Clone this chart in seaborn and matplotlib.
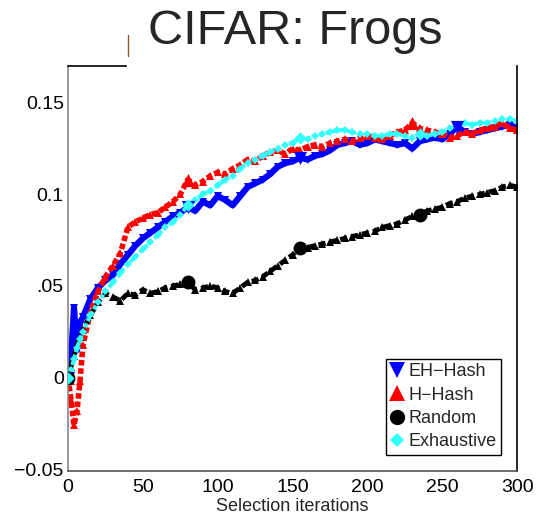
import matplotlib
matplotlib.use("Agg")
import matplotlib.pyplot as plt
import matplotlib.lines as mlines
import seaborn as sns
import pandas as pd

iters = [0, 2, 4, 6, 8] + list(range(10, 301, 5))

eh_hash = [0.000, 0.010, 0.038, 0.015, 0.030,
           0.033, 0.043, 0.049, 0.053, 0.056, 0.062, 0.067, 0.072, 0.076, 0.079,
           0.082, 0.085, 0.088, 0.090, 0.093, 0.091, 0.096, 0.094, 0.099, 0.097,
           0.094, 0.099, 0.104, 0.106, 0.108, 0.111, 0.115, 0.117, 0.118, 0.120,
           0.119, 0.121, 0.122, 0.124, 0.127, 0.128, 0.129, 0.127, 0.128, 0.130,
           0.129, 0.128, 0.127, 0.128, 0.125, 0.129, 0.130, 0.131, 0.130, 0.133,
           0.137, 0.134, 0.133, 0.134, 0.135, 0.136, 0.137, 0.138, 0.136]

h_hash = [0.000, -0.012, -0.026, -0.018, -0.002,
          0.018, 0.036, 0.047, 0.055, 0.061, 0.068, 0.082, 0.085, 0.087, 0.089,
          0.090, 0.093, 0.096, 0.100, 0.108, 0.105, 0.107, 0.110, 0.112, 0.111,
          0.114, 0.116, 0.119, 0.118, 0.121, 0.123, 0.124, 0.122, 0.125, 0.124,
          0.126, 0.127, 0.126, 0.128, 0.129, 0.130, 0.129, 0.131, 0.132, 0.131,
          0.130, 0.132, 0.134, 0.135, 0.139, 0.136, 0.135, 0.134, 0.133, 0.131,
          0.132, 0.134, 0.133, 0.135, 0.136, 0.137, 0.139, 0.136, 0.135]

random_sel = [0.000, 0.006, 0.012, 0.018, 0.022,
              0.026, 0.034, 0.041, 0.046, 0.044, 0.042, 0.046, 0.045, 0.048, 0.046,
              0.047, 0.049, 0.050, 0.051, 0.052, 0.048, 0.049, 0.050, 0.049, 0.047,
              0.046, 0.049, 0.052, 0.053, 0.055, 0.058, 0.061, 0.064, 0.067, 0.071,
              0.071, 0.072, 0.073, 0.074, 0.075, 0.076, 0.077, 0.078, 0.079, 0.080,
              0.082, 0.083, 0.084, 0.086, 0.088, 0.089, 0.091, 0.092, 0.093, 0.095,
              0.096, 0.098, 0.099, 0.100, 0.101, 0.102, 0.104, 0.105, 0.104]

exhaustive = [0.000, 0.004, 0.010, 0.016, 0.021,
              0.025, 0.034, 0.041, 0.047, 0.052, 0.057, 0.062, 0.066, 0.070, 0.074,
              0.078, 0.082, 0.085, 0.089, 0.094, 0.097, 0.100, 0.102, 0.105, 0.108,
              0.110, 0.114, 0.117, 0.119, 0.121, 0.123, 0.125, 0.127, 0.128, 0.131,
              0.130, 0.132, 0.133, 0.134, 0.135, 0.135, 0.134, 0.133, 0.133, 0.132,
              0.132, 0.133, 0.133, 0.132, 0.131, 0.133, 0.132, 0.133, 0.134, 0.136,
              0.137, 0.139, 0.138, 0.139, 0.139, 0.140, 0.141, 0.141, 0.140]

series_names = ["EH\u2212Hash", "H\u2212Hash", "Random", "Exhaustive"]
x_ticks = [0, 50, 100, 150, 200, 250, 300]
y_ticks = [-0.05, 0, 0.05, 0.1, 0.15]
y_tick_labels = ["\u22120.05", "0", ".05", "0.1", "0.15"]
title_text = "CIFAR: Frogs"
x_label = "Selection iterations"

sns.set_style("white")
plt.rcParams["font.family"] = ["Liberation Sans", "DejaVu Sans"]

fig = plt.figure(figsize=(5.42, 5.20), dpi=100)
ax = fig.add_axes([0.1255, 0.094, 0.8285, 0.779])

styles = [
    dict(data=eh_hash, color="#0000ff", ls="-", lw=4.5, marker="v", sms=6),
    dict(data=h_hash, color="#ff0000", ls=(0, (1.0, 0.5)), lw=4.0, marker="^", sms=6),
    dict(data=random_sel, color="#000000", ls=(0, (1.5, 0.8)), lw=3.5, marker="^", sms=6),
    dict(data=exhaustive, color="#33ffff", ls=(0, (1.0, 0.6)), lw=3.0, marker="D", sms=4),
]
big_markers = ["v", "^", "o", "D"]
big_marks = [[0, 80, 155, 260], [0, 80, 230], [0, 80, 155, 235], [0, 80, 155, 235]]
big_sizes = [90, 90, 100, 40]

handles = []
for name, st, bm, bmk, bs in zip(series_names, styles, big_markers, big_marks, big_sizes):
    df = pd.DataFrame({"iter": iters, "val": st["data"]})
    sns.lineplot(data=df, x="iter", y="val", ax=ax, color=st["color"],
                 linestyle=st["ls"], linewidth=st["lw"], marker=st["marker"],
                 markersize=st["sms"], markeredgewidth=0,
                 estimator=None, legend=False)
    sub = df[df["iter"].isin(bmk)]
    sns.scatterplot(data=sub, x="iter", y="val", ax=ax, color=st["color"],
                    marker=bm, s=bs, linewidth=0, legend=False, zorder=5)
    handles.append(mlines.Line2D([], [], color=st["color"], marker=bm,
                                 linestyle="none", markersize=11 if bm != "D" else 7,
                                 markeredgewidth=0, label=name))

ax.set_xlim(0, 300)
ax.set_ylim(-0.051, 0.170)
ax.set_xticks(x_ticks)
ax.set_yticks(y_ticks)
ax.set_yticklabels(y_tick_labels)
ax.tick_params(axis="both", direction="in", length=4, width=0.8, labelsize=14,
               colors="#000000")
ax.tick_params(axis="x", pad=6)
ax.tick_params(axis="y", pad=3)
ax.set_xlabel(x_label, fontsize=13, labelpad=1)
ax.set_ylabel("")

for side in ["left", "bottom", "right", "top"]:
    ax.spines[side].set_visible(True)
    ax.spines[side].set_linewidth(1.2)
ax.spines["left"].set_color("#888888")
ax.spines["bottom"].set_color("#555555")
ax.spines["right"].set_color("#000000")
ax.spines["top"].set_color("#000000")
ax.spines["top"].set_bounds(0, 39)

fig.text(0.545, 0.94, title_text, ha="center", va="center", fontsize=35)
fig.add_artist(mlines.Line2D([0.2362, 0.2362], [0.893, 0.933], color="#8b5a2b", lw=1,
                             transform=fig.transFigure))

leg = ax.legend(handles=handles, loc="lower right", bbox_to_anchor=(0.965, 0.04),
                fontsize=13, frameon=True, fancybox=False, framealpha=1,
                edgecolor="#000000", handlelength=0.7, handletextpad=0.3,
                borderpad=0.25, labelspacing=0.35, borderaxespad=0)
leg.get_frame().set_linewidth(1.0)

fig.savefig("out.png", dpi=100)
